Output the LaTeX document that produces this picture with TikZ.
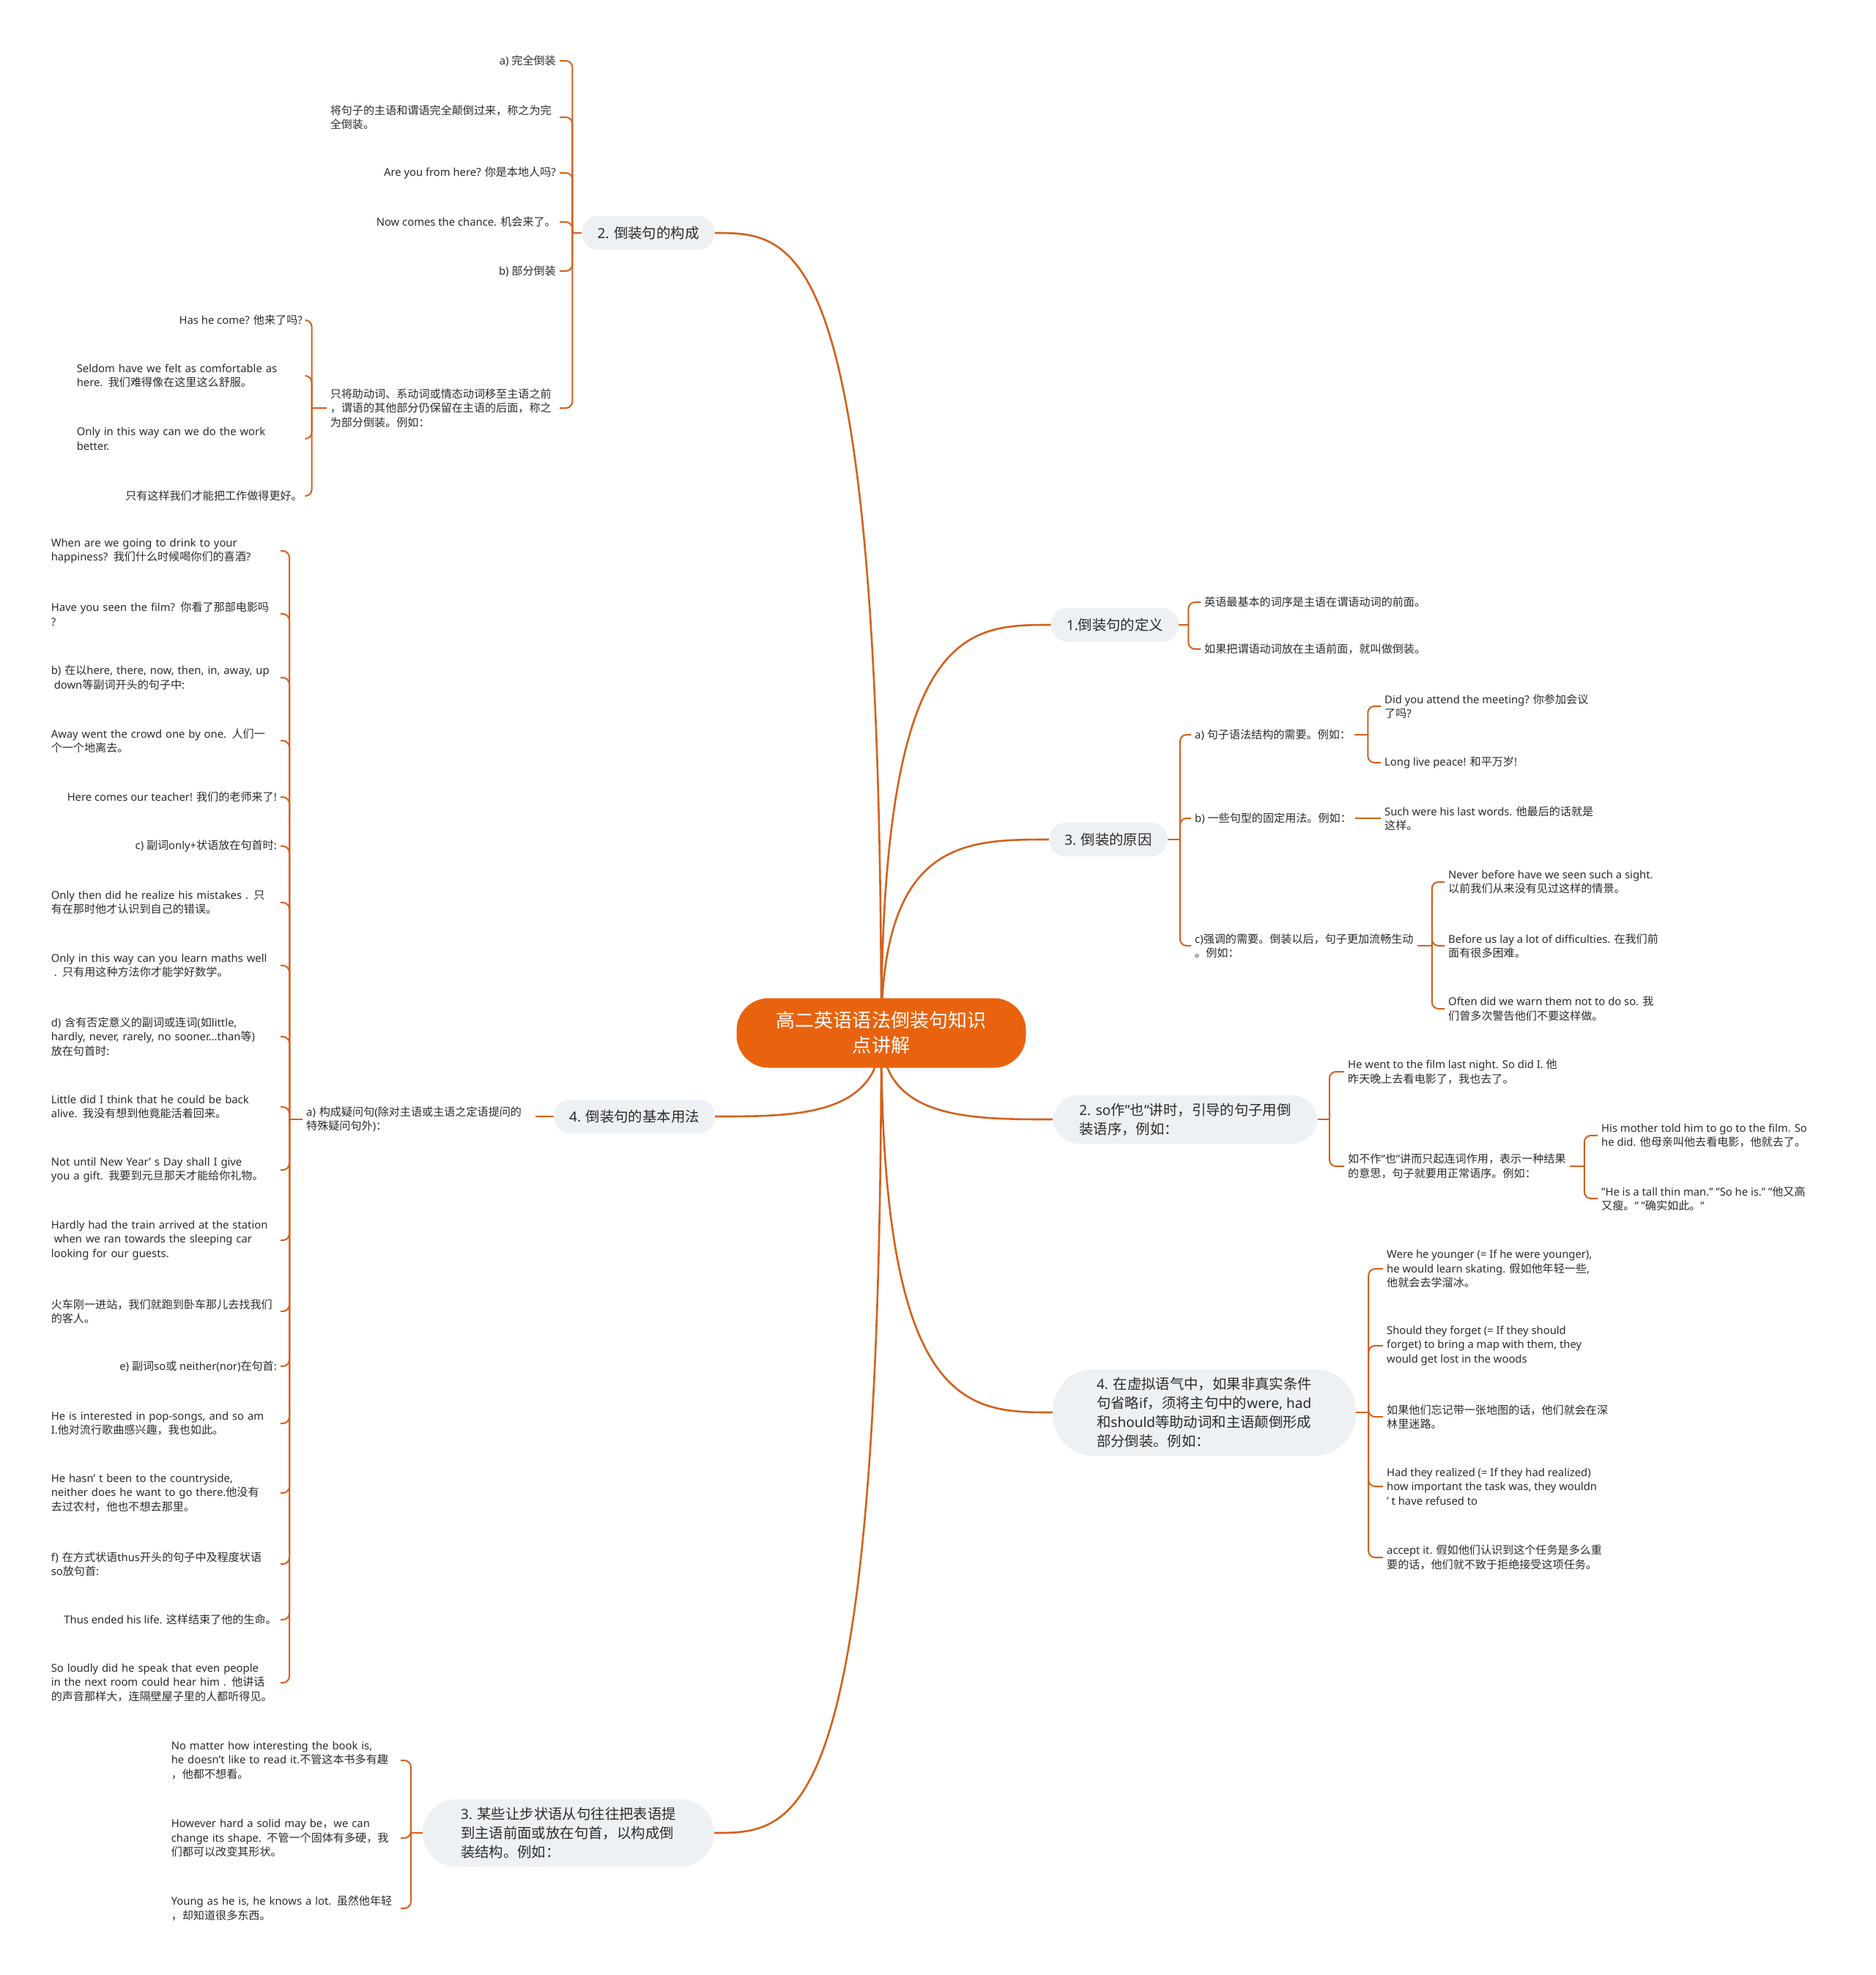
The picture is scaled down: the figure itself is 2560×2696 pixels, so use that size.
\documentclass[tikz,border=0pt]{standalone}
\usepackage{fontspec}
\setmainfont{Noto Sans}
\newfontfamily\cjkfont{Noto Sans CJK SC}[Scale=1.02]
\usetikzlibrary{positioning,backgrounds}

% runs of Chinese characters switch to the CJK family
\newXeTeXintercharclass\cjkclass
\newcount\cjkcode
\newcommand{\setcjkrange}[2]{%
  \cjkcode=#1\relax
  \loop\XeTeXcharclass\cjkcode=\cjkclass
    \advance\cjkcode by 1
  \ifnum\cjkcode<#2\repeat}
\setcjkrange{"3000}{"3040}
\setcjkrange{"4E00}{"A000}
\setcjkrange{"FF00}{"FFF0}
\XeTeXinterchartoks 0 \cjkclass = {\cjkfont}
\XeTeXinterchartoks 4095 \cjkclass = {\cjkfont}
\XeTeXinterchartoks \cjkclass 0 = {\rmfamily}
\XeTeXinterchartoks \cjkclass 4095 = {\rmfamily}
\XeTeXinterchartokenstate=1

\definecolor{branchline}{HTML}{D4601C}
\definecolor{rootfill}{HTML}{E9630F}
\definecolor{topicfill}{HTML}{EEF1F4}
\definecolor{inktext}{HTML}{2B2B2B}

\begin{document}
\begin{tikzpicture}[
  x=1pt, y=-1pt,
  root/.style={fill=rootfill, text=white, rounded corners=44pt, minimum width=395pt, minimum height=95pt, align=center, font=\fontsize{25.5}{34}\selectfont},
  topic/.style={fill=topicfill, text=inktext, rounded corners=22pt, inner xsep=21pt, minimum height=46pt, align=left, font=\fontsize{19}{26}\selectfont},
  bigtopic/.style={topic, inner xsep=36pt, inner ysep=11pt, rounded corners=36pt},
  leaf/.style={text=inktext, inner xsep=5pt, inner ysep=2pt, align=left, font=\fontsize{14.8}{19.5}\selectfont},
  para/.style={leaf, text width=308pt, execute at begin node={\hyphenpenalty=10000}},
  trunk/.style={draw=branchline, line width=2.6pt},
  link/.style={draw=branchline, line width=2pt, rounded corners=9pt},
]
\useasboundingbox (0,0) rectangle (2560,2696);

\node[root] (root) at (1203,1410) {高二英语语法倒装句知识\\点讲解};

\node[topic] (t1) at (1522,853) {1.倒装句的定义};
\node[topic] (t2) at (885,318) {2. 倒装句的构成};
\node[topic] (t3) at (1513,1146) {3. 倒装的原因};
\node[topic] (t4) at (866,1524) {4. 倒装句的基本用法};
\node[bigtopic] (s2) at (1618,1528) {2. so作"也"讲时，引导的句子用倒\\装语序，例如：};
\node[bigtopic, inner xsep=60pt, rounded corners=56pt] (s4) at (1644,1928) {4. 在虚拟语气中，如果非真实条件\\句省略if，须将主句中的were, had\\和should等助动词和主语颠倒形成\\部分倒装。例如：};
\node[bigtopic, inner xsep=52pt, rounded corners=46pt] (s3) at (776,2502) {3. 某些让步状语从句往往把表语提\\到主语前面或放在句首，以构成倒\\装结构。例如：};

\begin{scope}[on background layer]
\fill[white] (0,0) rectangle (2560,2696);
\draw[trunk] (root.center) .. controls (root.center |- t2.east) and +(113,0) .. (t2.east);
\draw[trunk] (root.center) .. controls (root.center |- t4.east) and +(113,0) .. (t4.east);
\draw[trunk] (root.center) .. controls (root.center |- s3.east) and +(113,0) .. (s3.east);
\draw[trunk] (root.center) .. controls (root.center |- t1.west) and +(-115,0) .. (t1.west);
\draw[trunk] (root.center) .. controls (root.center |- t3.west) and +(-115,0) .. (t3.west);
\draw[trunk] (root.center) .. controls (root.center |- s2.west) and +(-115,0) .. (s2.west);
\draw[trunk] (root.center) .. controls (root.center |- s4.west) and +(-115,0) .. (s4.west);
\end{scope}

% 2. 倒装句的构成
\node[leaf, anchor=east] (c1) at (764,83) {a) 完全倒装};
\node[para, anchor=east] (c2) at (764,160) {将句子的主语和谓语完全颠倒过来，称之为完\\全倒装。};
\node[leaf, anchor=east] (c3) at (764,236) {Are you from here? 你是本地人吗?};
\node[leaf, anchor=east] (c4) at (764,303) {Now comes the chance. 机会来了。};
\node[leaf, anchor=east] (c5) at (764,370) {b) 部分倒装};
\node[para, anchor=east] (c6) at (764,557) {只将助动词、系动词或情态动词移至主语之前\\，谓语的其他部分仍保留在主语的后面，称之\\为部分倒装。例如：};
\draw[link] (t2.west) -- ++(-13,0) coordinate (f2);
\foreach \n in {c1,c2,c3,c4,c5,c6} \draw[link] (f2) |- (\n.east);

\node[leaf, anchor=east] (c61) at (418,437) {Has he come? 他来了吗?};
\node[para, anchor=east] (c62) at (418,513) {Seldom have we felt as comfortable as\\here. 我们难得像在这里这么舒服。};
\node[para, anchor=east] (c63) at (418,599) {Only in this way can we do the work\\better.};
\node[leaf, anchor=east] (c64) at (418,677) {只有这样我们才能把工作做得更好。};
\draw[link] (c6.west) -- ++(-20,0) coordinate (f6);
\foreach \n in {c61,c62,c63,c64} \draw[link] (f6) |- (\n.east);

% 4. 倒装句的基本用法
\node[para, anchor=west] (u1) at (413,1528) {a) 构成疑问句(除对主语或主语之定语提问的\\特殊疑问句外)：};
\draw[link] (t4.west) -- (t4.west -| u1.east);
\draw[link] (u1.west) -- ++(-18,0) coordinate (f4);
\node[para, anchor=east] (q1) at (383,752) {When are we going to drink to your\\happiness? 我们什么时候喝你们的喜酒?};
\node[para, anchor=east] (q2) at (383,838) {Have you seen the film? 你看了那部电影吗\\?};
\node[para, anchor=east] (q3) at (383,925) {b) 在以here, there, now, then, in, away, up\\\hspace{4pt}down等副词开头的句子中:};
\node[para, anchor=east] (q4) at (383,1011) {Away went the crowd one by one. 人们一\\个一个地离去。};
\node[leaf, anchor=east] (q5) at (383,1088) {Here comes our teacher! 我们的老师来了!};
\node[leaf, anchor=east] (q6) at (383,1155) {c) 副词only+状语放在句首时:};
\node[para, anchor=east] (q7) at (383,1232) {Only then did he realize his mistakes . 只\\有在那时他才认识到自己的错误。};
\node[para, anchor=east] (q8) at (383,1318) {Only in this way can you learn maths well\\\hspace{4pt}. 只有用这种方法你才能学好数学。};
\node[para, anchor=east] (q9) at (383,1415) {d) 含有否定意义的副词或连词(如little,\\hardly, never, rarely, no sooner...than等)\\放在句首时:};
\node[para, anchor=east] (q10) at (383,1511) {Little did I think that he could be back\\alive. 我没有想到他竟能活着回来。};
\node[para, anchor=east] (q11) at (383,1597) {Not until New Year’ s Day shall I give\\you a gift. 我要到元旦那天才能给你礼物。};
\node[para, anchor=east] (q12) at (383,1693) {Hardly had the train arrived at the station\\\hspace{4pt}when we ran towards the sleeping car\\looking for our guests.};
\node[para, anchor=east] (q13) at (383,1790) {火车刚一进站，我们就跑到卧车那儿去找我们\\的客人。};
\node[leaf, anchor=east] (q14) at (383,1865) {e) 副词so或 neither(nor)在句首:};
\node[para, anchor=east] (q15) at (383,1943) {He is interested in pop-songs, and so am\\I.他对流行歌曲感兴趣，我也如此。};
\node[para, anchor=east] (q16) at (383,2038) {He hasn’ t been to the countryside,\\neither does he want to go there.他没有\\去过农村，他也不想去那里。};
\node[para, anchor=east] (q17) at (383,2135) {f) 在方式状语thus开头的句子中及程度状语\\so放句首:};
\node[leaf, anchor=east] (q18) at (383,2211) {Thus ended his life. 这样结束了他的生命。};
\node[para, anchor=east] (q19) at (383,2297) {So loudly did he speak that even people\\in the next room could hear him . 他讲话\\的声音那样大，连隔壁屋子里的人都听得见。};
\foreach \n in {q1,q2,q3,q4,q5,q6,q7,q8,q9,q10,q11,q12,q13,q14,q15,q16,q17,q18,q19}
  \draw[link] (f4) |- (\n.east);

% 3. 某些让步状语从句
\node[para, anchor=east] (m1) at (547,2403) {No matter how interesting the book is,\\he doesn't like to read it.不管这本书多有趣\\，他都不想看。};
\node[para, anchor=east] (m2) at (547,2509) {However hard a solid may be，we can\\change its shape. 不管一个固体有多硬，我\\们都可以改变其形状。};
\node[para, anchor=east] (m3) at (547,2605) {Young as he is, he knows a lot. 虽然他年轻\\，却知道很多东西。};
\draw[link] (s3.west) -- ++(-16,0) coordinate (f3);
\foreach \n in {m1,m2,m3} \draw[link] (f3) |- (\n.east);

% 1.倒装句的定义
\node[leaf, anchor=west] (d1) at (1639,822) {英语最基本的词序是主语在谓语动词的前面。};
\node[leaf, anchor=west] (d2) at (1639,886) {如果把谓语动词放在主语前面，就叫做倒装。};
\draw[link] (t1.east) -- ++(13,0) coordinate (g1);
\foreach \n in {d1,d2} \draw[link] (g1) |- (\n.west);

% 3. 倒装的原因
\node[leaf, anchor=west] (ra) at (1626,1003) {a) 句子语法结构的需要。例如：};
\node[leaf, anchor=west] (rb) at (1626,1117) {b) 一些句型的固定用法。例如：};
\node[leaf, anchor=west] (rc) at (1626,1291) {c)强调的需要。倒装以后，句子更加流畅生动\\。例如：};
\draw[link] (t3.east) -- ++(17,0) coordinate (g3);
\foreach \n in {ra,rb,rc} \draw[link] (g3) |- (\n.west);

\node[leaf, anchor=west] (ra1) at (1885,964) {Did you attend the meeting? 你参加会议\\了吗?};
\node[leaf, anchor=west] (ra2) at (1885,1041) {Long live peace! 和平万岁!};
\draw[link] (ra.east) -- ++(18,0) coordinate (ga);
\foreach \n in {ra1,ra2} \draw[link] (ga) |- (\n.west);

\node[leaf, anchor=west] (rb1) at (1885,1117) {Such were his last words. 他最后的话就是\\这样。};
\draw[link] (rb.east) -- (rb1.west);

\node[leaf, anchor=west] (rc1) at (1972,1204) {Never before have we seen such a sight.\\以前我们从来没有见过这样的情景。};
\node[leaf, anchor=west] (rc2) at (1972,1291) {Before us lay a lot of difficulties. 在我们前\\面有很多困难。};
\node[leaf, anchor=west] (rc3) at (1972,1377) {Often did we warn them not to do so. 我\\们曾多次警告他们不要这样做。};
\draw[link] (rc.east) -- ++(20,0) coordinate (gc);
\foreach \n in {rc1,rc2,rc3} \draw[link] (gc) |- (\n.west);

% 2. so作"也"讲时
\node[leaf, anchor=west] (n1) at (1835,1463) {He went to the film last night. So did I. 他\\昨天晚上去看电影了，我也去了。};
\node[leaf, anchor=west] (n2) at (1835,1592) {如不作"也"讲而只起连词作用，表示一种结果\\的意思，句子就要用正常语序。例如：};
\draw[link] (s2.east) -- ++(16,0) coordinate (gs);
\foreach \n in {n1,n2} \draw[link] (gs) |- (\n.west);

\node[leaf, anchor=west] (n21) at (2181,1550) {His mother told him to go to the film. So\\he did. 他母亲叫他去看电影，他就去了。};
\node[leaf, anchor=west] (n22) at (2181,1636) {"He is a tall thin man." "So he is." "他又高\\又瘦。" "确实如此。"};
\draw[link] (n2.east) -- ++(20,0) coordinate (gn);
\foreach \n in {n21,n22} \draw[link] (gn) |- (\n.west);

% 4. 在虚拟语气中
\node[leaf, anchor=west] (p1) at (1888,1732) {Were he younger (= If he were younger),\\he would learn skating. 假如他年轻一些,\\他就会去学溜冰。};
\node[leaf, anchor=west] (p2) at (1888,1837) {Should they forget (= If they should\\forget) to bring a map with them, they\\would get lost in the woods};
\node[leaf, anchor=west] (p3) at (1888,1934) {如果他们忘记带一张地图的话，他们就会在深\\林里迷路。};
\node[leaf, anchor=west] (p4) at (1888,2029) {Had they realized (= If they had realized)\\how important the task was, they wouldn\\’ t have refused to};
\node[leaf, anchor=west] (p5) at (1888,2126) {accept it. 假如他们认识到这个任务是多么重\\要的话，他们就不致于拒绝接受这项任务。};
\draw[link] (s4.east) -- ++(17,0) coordinate (gp);
\foreach \n in {p1,p2,p3,p4,p5} \draw[link] (gp) |- (\n.west);
\end{tikzpicture}
\end{document}
